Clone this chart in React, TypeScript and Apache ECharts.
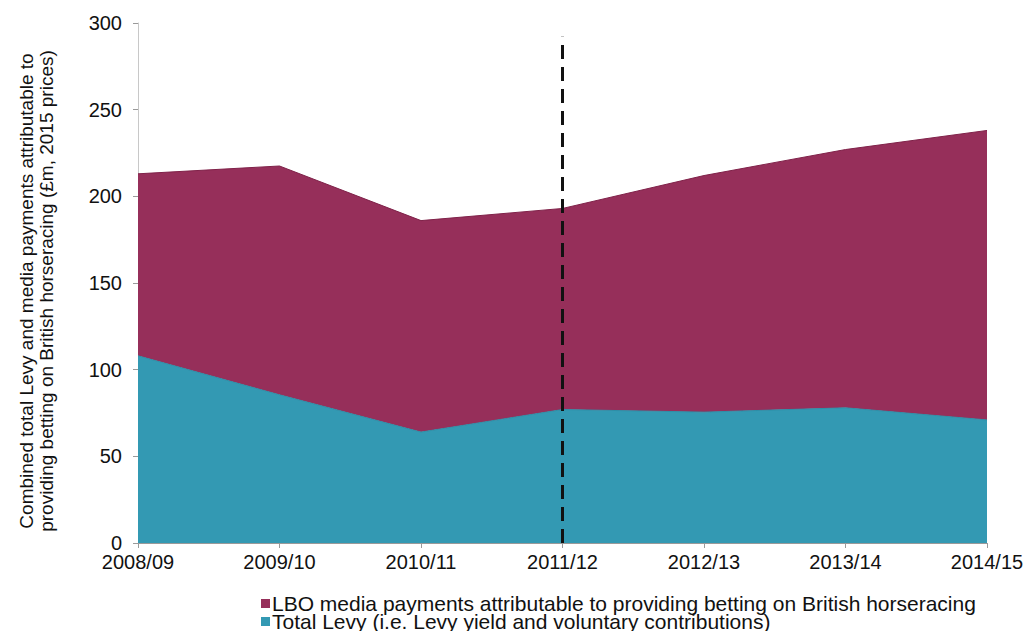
import React, { useEffect, useRef } from "react";
import * as echarts from "echarts";

const categories = ["2008/09", "2009/10", "2010/11", "2011/12", "2012/13", "2013/14", "2014/15"];
const levyValues = [108, 85.5, 64, 77, 75.5, 78, 71];
const lboValues = [105, 132, 122, 116, 136.5, 149, 167];
const yTicks = [0, 50, 100, 150, 200, 250, 300];
const markerCategory = "2011/12";
const markerTop = 292;

const LBO_NAME = "LBO media payments attributable to providing betting on British horseracing";
const LEVY_NAME = "Total Levy (i.e. Levy yield and voluntary contributions)";

const FONT = "Liberation Sans, Arial, sans-serif";

const legendBase = {
  orient: "horizontal",
  left: 261,
  itemWidth: 9,
  itemHeight: 9,
  padding: 0,
  icon: "rect",
  textStyle: { fontSize: 21, color: "#111", fontFamily: FONT, padding: [0, 0, 0, -3] },
};

export default function App() {
  const ref = useRef<HTMLDivElement>(null);
  useEffect(() => {
    if (!ref.current) return;
    const chart = echarts.init(ref.current, undefined, { renderer: "svg" });
    chart.setOption({
      animation: false,
      backgroundColor: "#ffffff",
      textStyle: { fontFamily: FONT },
      grid: { left: 138, right: 40, top: 23, bottom: 88, containLabel: false },
      legend: [
        { ...legendBase, top: 593, data: [LBO_NAME] },
        { ...legendBase, top: 611, data: [LEVY_NAME] },
      ],
      xAxis: {
        type: "category",
        data: categories,
        boundaryGap: false,
        axisLine: { lineStyle: { color: "#9a9a9a" } },
        axisTick: { show: true, length: 5, lineStyle: { color: "#9a9a9a" } },
        axisLabel: { fontSize: 20, color: "#111", margin: 9, fontFamily: FONT },
      },
      yAxis: {
        type: "value",
        min: yTicks[0],
        max: yTicks[yTicks.length - 1],
        interval: 50,
        name: "Combined total Levy and media payments attributable to\nproviding betting on British horseracing (£m, 2015 prices)",
        nameLocation: "middle",
        nameGap: 82,
        nameTextStyle: { fontSize: 19, color: "#111", fontFamily: FONT, lineHeight: 20, padding: [0, 16, 0, 0] },
        axisLine: { show: true, lineStyle: { color: "#c8c8c8" } },
        axisTick: { show: true, length: 5, lineStyle: { color: "#9a9a9a" } },
        axisLabel: { fontSize: 20, color: "#111", margin: 16, fontFamily: FONT },
        splitLine: { show: false },
      },
      series: [
        {
          name: LEVY_NAME,
          type: "line",
          stack: "total",
          data: levyValues,
          symbol: "none",
          lineStyle: { width: 1, color: "#2c8fa8" },
          itemStyle: { color: "#3399b3" },
          areaStyle: { color: "#3399b3", opacity: 1 },
          z: 2,
        },
        {
          name: LBO_NAME,
          type: "line",
          stack: "total",
          data: lboValues,
          symbol: "none",
          lineStyle: { width: 1, color: "#7f2249" },
          itemStyle: { color: "#962f5a" },
          areaStyle: { color: "#962f5a", opacity: 1 },
          z: 2,
          markLine: {
            silent: true,
            symbol: "none",
            label: { show: false },
            lineStyle: { color: "#111", type: [14, 8], width: 3 },
            data: [[{ coord: [markerCategory, 0] }, { coord: [markerCategory, markerTop] }]],
            z: 5,
          },
        },
      ],
    });
    return () => chart.dispose();
  }, []);
  return (
    <div
      ref={ref}
      style={{ position: "absolute", left: 0, top: 0, width: 1027, height: 631 }}
    />
  );
}
